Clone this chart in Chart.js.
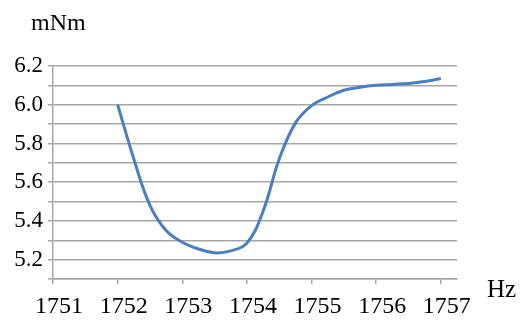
<!DOCTYPE html>
<html>
<head>
<meta charset="utf-8">
<script src="https://cdn.jsdelivr.net/npm/chart.js@4/dist/chart.umd.min.js"></script>
<style>
  html, body { margin: 0; padding: 0; background: #fff; }
  #wrap { width: 520px; height: 320px; }
</style>
</head>
<body>
<div id="wrap"><canvas id="torque" width="520" height="320"></canvas></div>
<script>
// frequency (Hz) and torque (mNm)
var freq = [1752, 1752.25, 1752.5, 1752.75, 1753, 1753.25, 1753.5, 1753.75, 1754,
  1754.25, 1754.5, 1754.75, 1755, 1755.25, 1755.5, 1755.75, 1756, 1756.25, 1756.5,
  1756.75, 1757];
var torque = [6.0, 5.72, 5.48, 5.35, 5.29, 5.255, 5.235, 5.245, 5.285,
  5.45, 5.72, 5.905, 5.995, 6.04, 6.075, 6.09, 6.1, 6.105, 6.11,
  6.12, 6.135];
var yUnit = "mNm";
var xUnit = "Hz";

var pts = [];
for (var i = 0; i < freq.length; i++) {
  pts.push({ x: freq[i], y: torque[i] });
}

var serif = "'Liberation Serif', 'Times New Roman', serif";
var gridCol = "#a6a6a6";

// unit labels on the corners
var unitLabels = {
  id: "unitLabels",
  afterDraw: function (chart) {
    var ctx = chart.ctx;
    ctx.save();
    ctx.fillStyle = "#000";
    ctx.textBaseline = "alphabetic";
    ctx.textAlign = "left";
    ctx.font = "24px " + serif;
    ctx.fillText(yUnit, 31, 30);
    ctx.font = "25px " + serif;
    ctx.fillText(xUnit, 487, 297);
    ctx.restore();
  }
};

new Chart(document.getElementById("torque"), {
  type: "line",
  data: {
    datasets: [{
      data: pts,
      borderColor: "#4a7ebf",
      borderWidth: 3,
      pointRadius: 0,
      fill: false,
      tension: 0.4
    }]
  },
  options: {
    responsive: false,
    animation: false,
    layout: { padding: { top: 66, right: 63, left: 0, bottom: 0 } },
    plugins: { legend: { display: false }, tooltip: { enabled: false } },
    scales: {
      x: {
        type: "linear",
        min: 1751,
        max: 1757.25,
        afterFit: function (s) { s.height = 41; },
        grid: { drawOnChartArea: false, drawTicks: true, tickLength: 5, color: gridCol, lineWidth: 1.5 },
        border: { color: gridCol, width: 1.5 },
        ticks: {
          stepSize: 1,
          includeBounds: false,
          labelOffset: 6,
          padding: 8,
          color: "#000",
          font: { family: serif, size: 24 },
          maxRotation: 0,
          autoSkip: false,
          callback: function (v) { return String(v); }
        }
      },
      y: {
        min: 5.1,
        max: 6.2,
        afterFit: function (s) { s.width = 53; },
        grid: { color: gridCol, lineWidth: 1.5, tickLength: 5 },
        border: { color: gridCol, width: 1.5 },
        ticks: {
          stepSize: 0.1,
          padding: 5,
          color: "#000",
          font: { family: serif, size: 23 },
          autoSkip: false,
          callback: function (v) {
            var t = Math.round(v * 10);
            return t % 2 === 0 ? (t / 10).toFixed(1) : "";
          }
        }
      }
    }
  },
  plugins: [unitLabels]
});
</script>
</body>
</html>
